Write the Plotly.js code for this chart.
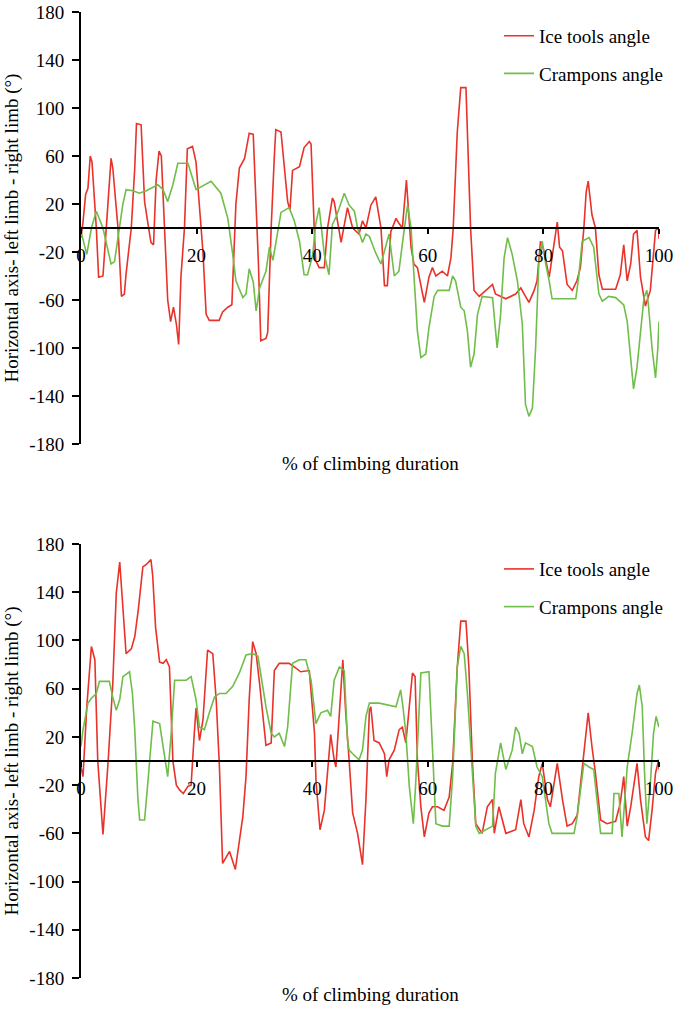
<!DOCTYPE html>
<html>
<head>
<meta charset="utf-8">
<script src="https://cdn.plot.ly/plotly-3.0.1.min.js"></script>
<style>html,body{margin:0;padding:0;background:#fff;}#chart{width:680px;height:1010px;}</style>
</head>
<body>
<div id="chart"></div>
<script>
// ---- Data ----
const xTicks = [0, 20, 40, 60, 80, 100];
const yTicks = [-180, -140, -100, -60, -20, 20, 60, 100, 140, 180];
const seriesNames = ["Ice tools angle", "Crampons angle"];
const xTitle = "% of climbing duration";
const yTitle = "Horizontal axis- left limb - right limb (°)";

// Top panel: Ice tools
const topIceX = [0,0.35,0.8,1.2,1.6,1.9,2.65,3.05,3.8,4.5,5.2,5.5,6.4,7.0,7.5,7.8,8.7,9.3,9.6,10.4,11.0,11.7,12.1,12.55,13.0,13.5,13.9,14.45,15.0,15.5,15.8,16.0,16.5,16.9,17.3,17.9,18.4,19.3,19.9,20.5,21.1,21.65,22.2,23.9,24.5,25.4,26.1,26.8,27.4,28.3,29.1,29.8,30.3,30.7,31.1,32.0,32.3,32.9,33.45,33.7,34.6,35.2,35.75,36.15,36.6,37.8,38.6,39.5,39.8,40.35,40.6,41.2,42.1,42.65,43.5,43.8,45.0,46.1,47.0,48.1,48.7,49.3,50.15,51.0,51.9,52.5,53.0,53.6,54.5,55.0,55.6,56.3,57.1,57.6,58.2,59.1,59.4,60.2,60.8,61.4,62.5,63.4,64.0,64.4,65.1,65.7,66.6,67.4,68.0,68.9,70.0,71.2,71.7,73.5,75.2,76.1,76.9,77.5,78.4,78.9,79.5,80.1,81.0,81.6,82.4,82.8,83.3,84.1,85.0,85.8,86.4,87.0,87.4,87.75,88.4,89.0,89.6,90.2,92.5,93.3,93.9,94.5,95.1,95.6,96.2,96.8,97.65,98.5,99.4,99.95,100];
const topIceY = [-8,5,28,33,60,55,0,-41,-40,10,58,50,0,-57,-55,-38,0,50,87,86,22,0,-12,-14,40,64,60,0,-60,-78,-70,-66,-80,-97,-40,0,66,68,55,20,-20,-72,-77,-77,-70,-66,-64,20,50,58,79,78,20,-30,-94,-92,-87,0,60,82,80,50,22,15,48,51,67,72,70,0,-27,-33,-33,0,25,22,-12,17,0,-5,6,0,19,26,0,-48,-48,-3,8,4,0,40,-16,-30,-33,-55,-62,-41,-33,-40,-36,-40,-25,0,80,117,117,0,-52,-57,-52,-47,-55,-59,-55,-50,-57,-62,-52,-44,-11,-19,-41,-20,5,-16,-19,-47,-52,-44,-33,0,30,39,11,0,-39,-51,-51,-39,-14,-44,-30,-5,-2,-41,-65,-52,-2,0,-9];

// Top panel: Crampons
const topCrampX = [0,1.0,1.8,2.65,3.8,5.2,5.8,6.7,7.25,7.8,9.0,10.1,11.3,13.3,14.2,15.0,15.9,16.75,18.5,19.9,21.1,22.5,24.2,25.4,26.25,26.8,28.0,28.55,29.1,29.8,30.3,30.9,32.0,32.6,33.2,33.7,34.6,36.0,36.9,37.8,38.6,39.2,40.1,40.6,41.2,42.1,42.9,43.5,44.2,45.55,46.4,47.3,47.85,48.7,49.3,49.9,51.0,51.9,52.7,53.3,54.2,55.0,55.9,56.5,57.1,57.6,58.2,58.8,59.65,60.2,61.1,61.7,63.7,64.3,64.8,65.7,66.3,66.85,67.4,68.0,68.6,69.4,71.2,72.0,72.6,73.2,73.8,74.6,75.5,76.35,76.9,77.5,78.1,78.65,79.2,79.8,80.4,81.0,81.5,85.6,86.1,86.7,87.9,88.7,89.6,90.2,91.3,92.5,93.9,94.5,95.1,95.6,96.2,96.8,97.4,97.9,98.2,98.8,99.4,99.8,100];
const topCrampY = [-3,-22,0,14,0,-30,-28,0,20,32,31,29,31,36,32,22,36,54,54,32,35,39,29,8,-22,-44,-58,-55,-34,-45,-69,-50,-36,-16,-27,-12,13,17,6,-11,-39,-39,-22,3,17,-22,-39,3,10,29,19,14,0,-12,-5,-7,-21,-30,-16,-5,-40,-36,-2,19,0,-44,-86,-108,-105,-83,-57,-52,-52,-40,-44,-66,-69,-86,-116,-105,-72,-57,-58,-100,-72,-25,-8,-22,-44,-80,-147,-157,-150,-100,-30,-11,-30,-44,-59,-59,-41,-11,-8,-16,-55,-61,-57,-58,-64,-78,-108,-134,-116,-86,-58,-52,-66,-100,-125,-100,-78];

// Bottom panel: Ice tools
const botIceX = [0,0.35,1.0,1.8,2.4,2.9,3.8,4.7,5.5,6.1,6.7,7.2,7.8,8.7,9.3,9.9,10.4,10.7,11.3,12.1,12.4,12.9,13.6,14.2,14.75,15.3,15.9,16.5,17.05,17.7,18.5,19.05,19.6,19.9,20.5,21.1,21.9,22.8,23.4,23.95,24.5,25.7,26.7,27.4,28.0,28.55,29.1,29.7,30.3,30.9,31.45,32.0,32.9,33.45,34.3,36.0,36.9,38.0,39.5,40.4,40.65,41.35,42.1,42.65,43.2,43.8,44.1,45.3,45.8,46.4,47.0,47.85,48.7,49.3,49.9,50.15,50.7,51.6,52.5,52.9,53.3,54.2,55.05,55.6,56.2,57.35,57.8,58.2,58.8,59.4,60.2,60.8,61.7,62.8,63.7,64.3,65.1,65.7,66.6,67.1,67.7,68.3,69.4,70.3,71.2,71.5,72.3,73.5,75.2,76.1,76.6,77.5,78.4,79.2,79.8,80.7,81.2,82.4,83.3,84.1,85.0,85.85,86.7,87.75,88.4,89.0,89.9,91.0,92.5,93.3,93.9,94.5,95.1,95.9,96.2,96.8,97.65,98.2,98.8,99.4,99.95,100];
const botIceY = [-5,-13,45,95,84,0,-61,0,64,139,165,133,89,93,103,125,145,161,163,167,154,111,82,81,84,78,0,-20,-24,-27,-21,-20,23,44,17,34,92,89,50,-5,-85,-75,-90,-68,-46,-13,51,99,89,64,37,13,15,75,81,81,78,74,75,23,-16,-57,-41,-7,22,1,-5,84,40,0,-43,-60,-86,-32,42,45,17,15,6,-13,1,9,26,28,15,73,70,1,-38,-63,-43,-38,-38,-41,-30,-2,78,116,116,78,1,-52,-60,-38,-32,-60,-38,-60,-57,-32,-52,-63,-41,-13,-2,-32,-38,-2,-32,-54,-52,-45,-5,40,12,-10,-49,-52,-50,-35,-13,-54,-38,-10,-2,-32,-63,-66,-41,-10,1,-7];

// Bottom panel: Crampons
const botCrampX = [0,0.35,0.9,1.2,1.8,2.65,3.2,4.9,5.5,6.1,6.7,7.25,8.4,8.9,9.3,9.85,10.15,11.0,11.6,12.15,12.45,13.6,14.15,14.75,15.0,15.6,16.2,17.05,18.2,19.05,19.9,20.5,21.35,22.2,23.1,23.95,25.1,26.25,27.4,28.55,29.7,30.6,31.15,32.0,32.9,33.45,34.3,35.2,35.75,36.6,37.75,38.9,39.8,40.65,41.5,42.65,43.2,43.8,44.7,45.55,46.1,46.4,47.0,48.1,48.7,49.3,49.9,51.6,54.5,55.3,55.7,56.2,56.8,57.5,57.9,58.8,60.2,60.8,61.4,62.5,63.7,64.3,65.1,65.7,66.3,66.85,67.4,68.3,68.9,70.0,71.2,71.7,72.6,73.5,74.6,75.2,75.8,76.35,76.9,78.1,78.9,79.8,80.95,81.5,85.3,85.85,87.0,87.9,88.7,89.9,91.9,92.2,93.05,93.6,94.5,95.35,96.2,96.6,97.1,97.5,97.9,98.5,99.05,99.5,100];
const botCrampY = [12,26,40,48,52,56,66,66,53,42,51,70,74,56,26,-32,-49,-49,-16,17,33,31,12,-5,-13,23,67,67,67,70,51,28,26,40,53,56,56,62,73,88,89,87,70,45,23,20,23,12,28,81,84,84,67,31,40,42,37,67,78,75,17,9,6,1,9,37,48,48,45,59,45,23,-21,-52,-19,73,74,12,-52,-54,-54,-13,78,95,89,56,17,-54,-60,-57,-54,-10,15,-7,9,28,23,6,15,12,-5,-13,-52,-60,-60,-46,-2,-5,-7,-60,-60,-27,-27,-63,-5,23,56,63,45,-10,-52,-19,23,37,28];

// ---- Styling ----
const lineRed = '#e8322a';
const lineGreen = '#70bd4a';
const F = 'Times New Roman';

function mkLine(x, y, name, color, xa, ya, leg, grp) {
  return {x: x, y: y, name: name, type: 'scatter', mode: 'lines',
    line: {color: color, width: 1.6}, xaxis: xa, yaxis: ya,
    legend: leg, legendgroup: grp, showlegend: true};
}

const traces = [
  mkLine(topIceX, topIceY, seriesNames[0], lineRed, 'x', 'y', 'legend', 'a'),
  mkLine(topCrampX, topCrampY, seriesNames[1], lineGreen, 'x', 'y', 'legend', 'b'),
  mkLine(botIceX, botIceY, seriesNames[0], lineRed, 'x2', 'y2', 'legend2', 'c'),
  mkLine(botCrampX, botCrampY, seriesNames[1], lineGreen, 'x2', 'y2', 'legend2', 'd')
];

function xAx(pos) {
  return {domain: [0, 1], range: [0, 100], tickvals: xTicks, ticktext: xTicks.map(String),
    showline: true, linecolor: '#000', linewidth: 2,
    ticks: 'outside', ticklen: 5, tickwidth: 2, tickcolor: '#000',
    showgrid: false, zeroline: false, anchor: 'free', position: pos,
    tickfont: {family: F, size: 19, color: '#000'}, ticklabelstandoff: 5};
}
function yAx(dom, anc) {
  return {domain: dom, anchor: anc, range: [-180, 180], tickvals: yTicks, ticktext: yTicks.map(String),
    showline: true, linecolor: '#000', linewidth: 2,
    ticks: 'outside', ticklen: 7, tickwidth: 2, tickcolor: '#000',
    showgrid: false, zeroline: false,
    tickfont: {family: F, size: 19, color: '#000'}, ticklabelstandoff: 4,
    title: {text: yTitle, font: {family: F, size: 19, color: '#000'}, standoff: 6}};
}
function leg(yy) {
  return {x: 0.722, y: yy, xanchor: 'left', yanchor: 'top',
    font: {family: F, size: 19, color: '#000'}, traceorder: 'grouped', tracegroupgap: 10, itemwidth: 30};
}

const layout = {
  width: 680, height: 1010,
  margin: {l: 81, r: 20, t: 12, b: 32},
  font: {family: F, color: '#000'},
  xaxis: xAx(0.7764),
  yaxis: yAx([0.5528, 1], 'x'),
  xaxis2: xAx(0.2246),
  yaxis2: yAx([0, 0.4493], 'x2'),
  legend: leg(0.995),
  legend2: leg(0.443),
  annotations: [
    {text: xTitle, xref: 'paper', yref: 'paper', x: 0.5, y: 0.533, xanchor: 'center', yanchor: 'middle',
     showarrow: false, font: {family: F, size: 19, color: '#000'}},
    {text: xTitle, xref: 'paper', yref: 'paper', x: 0.5, y: -0.0166, xanchor: 'center', yanchor: 'middle',
     showarrow: false, font: {family: F, size: 19, color: '#000'}}
  ],
  showlegend: true
};

Plotly.newPlot('chart', traces, layout, {staticPlot: true});
</script>
</body>
</html>
